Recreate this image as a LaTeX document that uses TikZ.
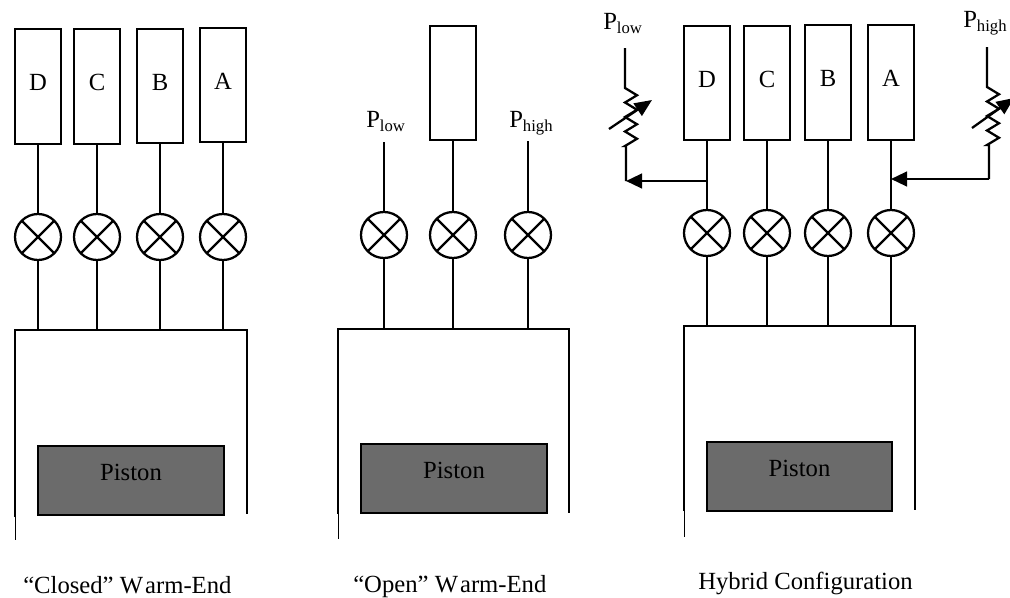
\documentclass[tikz,border=0pt]{standalone}
\usepackage{fontspec}
\setmainfont{Liberation Serif}
\usetikzlibrary{arrows.meta}

\newcommand{\psub}[1]{P\raisebox{-3pt}{\fontsize{12.5}{13}\selectfont #1}}

\tikzset{
	wire/.style={line width=1.7pt},
	thinwire/.style={line width=0.6pt},
	cell/.style={draw,line width=1.7pt,minimum width=34.5pt,minimum height=86pt,inner sep=0pt,text depth=6pt},
	valve/.style={circle,draw,line width=1.7pt,minimum size=34.5pt,inner sep=0pt,
		path picture={
			\draw[line width=1.7pt] (path picture bounding box.north west) -- (path picture bounding box.south east);
			\draw[line width=1.7pt] (path picture bounding box.north east) -- (path picture bounding box.south west);
		}},
	piston/.style={draw,line width=1.7pt,fill=black!58,minimum width=139pt,minimum height=51.5pt,inner sep=0pt,text depth=12pt},
	zig/.style={insert path={-- ++(12,7.25) -- ++(-12,7.25)}},
	adjust/.style={line width=1.7pt,-{Triangle[length=13pt,width=11pt]}},
	feed/.style={line width=1.7pt,-{Triangle[length=12pt,width=11pt]}},
	caption/.style={anchor=base west,inner sep=0pt},
	plabel/.style={anchor=base west,inner sep=0pt}
}

\begin{document}
\begin{tikzpicture}[x=0.75pt,y=-0.75pt,every node/.append style={font=\fontsize{18.5}{20}\selectfont}]
	\useasboundingbox (0,0) rectangle (1010,597);

	% Closed warm-end
	\node[cell] (d1) at (38,86.5) {D};
	\node[cell] (c1) at (97,86.5) {C};
	\node[cell] (b1) at (160,86) {B};
	\node[cell] (a1) at (223,85) {A};
	\node[valve] (vd1) at (38,237) {};
	\node[valve] (vc1) at (97,237) {};
	\node[valve] (vb1) at (160,237) {};
	\node[valve] (va1) at (223,237) {};
	\coordinate (tl1) at (15,330);
	\coordinate (tr1) at (247,330);
	\coordinate (ml1) at (15,517);
	\coordinate (bl1) at (15,540);
	\coordinate (br1) at (247,514);
	\draw[wire] (d1) -- (vd1);
	\draw[wire] (c1) -- (vc1);
	\draw[wire] (b1) -- (vb1);
	\draw[wire] (a1) -- (va1);
	\draw[wire] (vd1) -- (vd1|-tl1);
	\draw[wire] (vc1) -- (vc1|-tl1);
	\draw[wire] (vb1) -- (vb1|-tl1);
	\draw[wire] (va1) -- (va1|-tl1);
	\draw[wire] (ml1) -- (tl1) -- (tr1) -- (br1);
	\draw[thinwire] (ml1) -- (bl1);
	\node[piston] (p1) at (131,480.5) {Piston};
	\node[caption] (t1) at (23,593) {“Closed” W\kern1.5pt arm-End};

	% Open warm-end
	\node[cell] (m2) at (453,83) {};
	\node[plabel] (pl2) at (366,127) {\psub{low}};
	\node[plabel] (ph2) at (509,127) {\psub{high}};
	\coordinate (sl2) at (384,142);
	\coordinate (sh2) at (528,141);
	\node[valve] (vl2) at (384,235) {};
	\node[valve] (vm2) at (453,235) {};
	\node[valve] (vh2) at (528,235) {};
	\coordinate (tl2) at (338,329);
	\coordinate (tr2) at (569,329);
	\coordinate (ml2) at (338,514);
	\coordinate (bl2) at (338,539);
	\coordinate (br2) at (569,513);
	\draw[wire] (sl2) -- (vl2);
	\draw[wire] (m2) -- (vm2);
	\draw[wire] (sh2) -- (vh2);
	\draw[wire] (vl2) -- (vl2|-tl2);
	\draw[wire] (vm2) -- (vm2|-tl2);
	\draw[wire] (vh2) -- (vh2|-tl2);
	\draw[wire] (ml2) -- (tl2) -- (tr2) -- (br2);
	\draw[thinwire] (ml2) -- (bl2);
	\node[piston] (p2) at (454,478.5) {Piston};
	\node[caption] (t2) at (353,592) {“Open” W\kern1.5pt arm-End};

	% Hybrid configuration
	\node[cell] (d3) at (707,83) {D};
	\node[cell] (c3) at (767,83) {C};
	\node[cell] (b3) at (828,82.5) {B};
	\node[cell] (a3) at (891,82.5) {A};
	\node[valve] (vd3) at (707,233) {};
	\node[valve] (vc3) at (767,233) {};
	\node[valve] (vb3) at (828,233) {};
	\node[valve] (va3) at (891,233) {};
	\coordinate (tl3) at (684,326);
	\coordinate (tr3) at (915,326);
	\coordinate (ml3) at (684,511);
	\coordinate (bl3) at (684,537);
	\coordinate (br3) at (915,510);
	\draw[wire] (d3) -- (vd3);
	\draw[wire] (c3) -- (vc3);
	\draw[wire] (b3) -- (vb3);
	\draw[wire] (a3) -- (va3);
	\draw[wire] (vd3) -- (vd3|-tl3);
	\draw[wire] (vc3) -- (vc3|-tl3);
	\draw[wire] (vb3) -- (vb3|-tl3);
	\draw[wire] (va3) -- (va3|-tl3);
	\draw[wire] (ml3) -- (tl3) -- (tr3) -- (br3);
	\draw[thinwire] (ml3) -- (bl3);
	\node[piston] (p3) at (799.5,476.5) {Piston};
	\node[caption] (t3) at (698,589) {Hybrid Configuration};

	% Low side resistor
	\node[plabel] (pl3) at (603,29) {\psub{low}};
	\coordinate (rl1) at (625,48);
	\coordinate (rl2) at (625,88);
	\coordinate (rl3) at (626,146);
	\coordinate (rl4) at (626,181);
	\coordinate (sd3) at (707,181);
	\draw[wire] (rl1) -- (rl2) [zig] [zig] [zig] [zig] -- (rl3) -- (rl4);
	\draw[feed] (sd3) -- (rl4);
	\coordinate (al1) at (609,129);
	\coordinate (al2) at (652,100);
	\draw[adjust] (al1) -- (al2);

	% High side resistor
	\node[plabel] (ph3) at (963,27) {\psub{high}};
	\coordinate (rh1) at (987,47);
	\coordinate (rh2) at (987,87);
	\coordinate (rh3) at (989,145);
	\coordinate (rh4) at (989,179);
	\coordinate (sa3) at (891,179);
	\draw[wire] (rh1) -- (rh2) [zig] [zig] [zig] [zig] -- (rh3) -- (rh4);
	\draw[feed] (rh4) -- (sa3);
	\coordinate (ah1) at (972,128);
	\coordinate (ah2) at (1014,98);
	\draw[adjust] (ah1) -- (ah2);
\end{tikzpicture}
\end{document}
